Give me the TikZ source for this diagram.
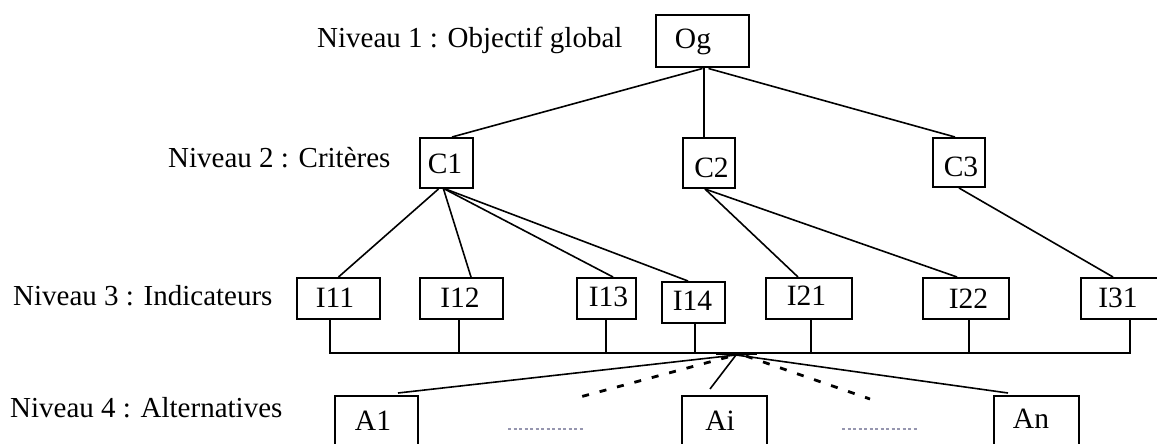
\documentclass[tikz,border=0pt]{standalone}
\usepackage{fontspec}
\setmainfont{Liberation Serif}
\usetikzlibrary{calc}
\definecolor{dotcol}{RGB}{150,150,175}
\begin{document}
\begin{tikzpicture}[x=1pt,y=-1pt,
  box/.style={draw, line width=2pt, inner sep=0pt},
  conn/.style={draw, line width=1.6pt},
  txt/.style={anchor=base, inner sep=0pt, font=\fontsize{29.5}{34}\selectfont},
  lvl/.style={anchor=base west, inner sep=0pt, font=\fontsize{29}{34}\selectfont},
  dashline/.style={draw, line width=2.8pt, dash pattern=on 7pt off 11pt},
  dotline/.style={draw, line width=1.4pt, color=dotcol, dash pattern=on 3pt off 2.5pt}]
\useasboundingbox (0,0) rectangle (1157,444);
\clip (0,0) rectangle (1157,444);
% level labels
\node[lvl] (L1) at (317,48) {Niveau 1 : Objectif global};
\node[lvl] (L2) at (168,167) {Niveau 2 : Critères};
\node[lvl] (L3) at (13,305) {Niveau 3 : Indicateurs};
\node[lvl] (L4) at (10,417) {Niveau 4 : Alternatives};
% level 1
\node[box, minimum width=93pt, minimum height=52pt] (Og) at (702.5,41.5) {};
\node[txt] (tOg) at (693,49) {Og};
% level 2
\node[box, minimum width=53pt, minimum height=50pt] (C1) at (446.5,163) {};
\node[box, minimum width=52pt, minimum height=50pt] (C2) at (709,163) {};
\node[box, minimum width=52pt, minimum height=49pt] (C3) at (959,162.5) {};
\node[txt] (tC1) at (445,173) {C1};
\node[txt] (tC2) at (711.5,177) {C2};
\node[txt] (tC3) at (961,176) {C3};
% level 3
\node[box, minimum width=83pt, minimum height=41pt] (I11) at (338.5,298.5) {};
\node[box, minimum width=83pt, minimum height=41pt] (I12) at (461.5,298.5) {};
\node[box, minimum width=59pt, minimum height=41pt] (I13) at (606.5,298.5) {};
\node[box, minimum width=63pt, minimum height=41pt] (I14) at (693.5,302.5) {};
\node[box, minimum width=86pt, minimum height=41pt] (I21) at (809,298.5) {};
\node[box, minimum width=86pt, minimum height=41pt] (I22) at (966,298.5) {};
\node[box, minimum width=84pt, minimum height=41pt] (I31) at (1123,298.5) {};
\node[txt] (tI11) at (335,307) {I11};
\node[txt] (tI12) at (460,307) {I12};
\node[txt] (tI13) at (608.5,306) {I13};
\node[txt] (tI14) at (692.5,310) {I14};
\node[txt] (tI21) at (806.5,305) {I21};
\node[txt] (tI22) at (968.5,308) {I22};
\node[txt] (tI31) at (1118,307) {I31};
% level 4
\node[box, minimum width=83pt, minimum height=74pt] (A1) at (376.5,433) {};
\node[box, minimum width=85pt, minimum height=74pt] (Ai) at (724.5,433) {};
\node[box, minimum width=85pt, minimum height=74pt] (An) at (1036.5,433) {};
\node[txt] (tA1) at (373,430) {A1};
\node[txt] (tAi) at (720,430) {Ai};
\node[txt] (tAn) at (1031,428) {An};
% level 1 -> 2
\draw[conn] (Og.south) -- ([xshift=5.5pt]C1.north);
\draw[conn] ([xshift=1.5pt]Og.south) -- ([xshift=-5pt]C2.north);
\draw[conn] ([xshift=6pt]Og.south) -- ([xshift=-4pt]C3.north);
% level 2 -> 3
\draw[conn] ([xshift=-8pt]C1.south) -- (I11.north);
\draw[conn] ([xshift=-3pt]C1.south) -- ([xshift=9.5pt]I12.north);
\draw[conn] ([xshift=-2pt]C1.south) -- ([xshift=6.5pt]I13.north);
\draw[conn] ([xshift=-1pt]C1.south) -- ([xshift=-5.5pt]I14.north);
\draw[conn] ([xshift=-4pt]C2.south) -- ([xshift=-11pt]I21.north);
\draw[conn] ([xshift=-4pt]C2.south) -- ([xshift=-9pt]I22.north);
\draw[conn] (C3.south) -- ([xshift=-10pt]I31.north);
% bus
\coordinate (busL) at (330,353);
\coordinate (busR) at (1130,353);
\draw[conn] ([xshift=-8.5pt]I11.south) -- (busL) -- (busR) -- ([xshift=7pt]I31.south);
\draw[conn] ([xshift=-2.5pt]I12.south) -- ([xshift=-2.5pt]I12.south |- busL);
\draw[conn] ([xshift=-0.5pt]I13.south) -- ([xshift=-0.5pt]I13.south |- busL);
\draw[conn] ([xshift=1.5pt]I14.south) -- ([xshift=1.5pt]I14.south |- busL);
\draw[conn] ([xshift=2pt]I21.south) -- ([xshift=2pt]I21.south |- busL);
\draw[conn] ([xshift=3pt]I22.south) -- ([xshift=3pt]I22.south |- busL);
% hub -> alternatives
\coordinate (hub) at (736,355);
\coordinate (eA1) at ($(A1.north)+(21.5,-2)$);
\coordinate (eAi) at ($(Ai.north)+(-14.5,-6)$);
\coordinate (eAn) at ($(An.north)+(-28.5,-2)$);
\coordinate (eDL) at (580,397);
\coordinate (eDR) at (870,399);
\draw[conn, line width=2.4pt] (716,354) -- (757,354);
\draw[conn] (hub) -- (eA1);
\draw[conn] (hub) -- (eAi);
\draw[conn] (hub) -- (eAn);
\draw[dashline] ([xshift=-8pt,yshift=-2pt]hub) -- (eDL);
\draw[dashline] ([xshift=10pt,yshift=-1pt]hub) -- (eDR);
% dotted placeholders
\coordinate (dL1) at (508,429);
\coordinate (dL2) at (583,429);
\coordinate (dR1) at (842,429);
\coordinate (dR2) at (917,429);
\draw[dotline] (dL1) -- (dL2);
\draw[dotline] (dR1) -- (dR2);
\end{tikzpicture}
\end{document}
